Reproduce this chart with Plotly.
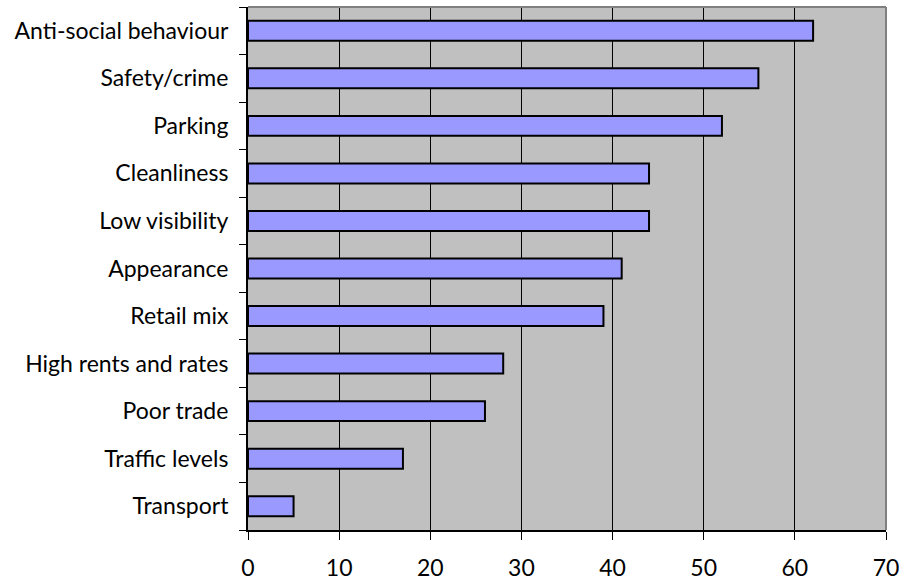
import plotly.graph_objects as go

# Issues cited by respondents (%), listed top to bottom
categories = [
    "Anti-social behaviour", "Safety/crime", "Parking", "Cleanliness",
    "Low visibility", "Appearance", "Retail mix", "High rents and rates",
    "Poor trade", "Traffic levels", "Transport",
]
values = [62, 56, 52, 44, 44, 41, 39, 28, 26, 17, 5]
x_ticks = [0, 10, 20, 30, 40, 50, 60, 70]

# Plotly draws the first category at the bottom, so reverse for top-down order
cats_plot = categories[::-1]
vals_plot = values[::-1]

fig = go.Figure(
    go.Bar(
        x=vals_plot,
        y=cats_plot,
        orientation="h",
        width=0.42,
        marker=dict(color="#9999FF", line=dict(color="#000000", width=2)),
        hoverinfo="x+y",
    )
)

font_family = "Lato, 'Open Sans', sans-serif"

fig.update_layout(
    width=902,
    height=584,
    margin=dict(l=248, r=16, t=7, b=54),
    paper_bgcolor="#FFFFFF",
    plot_bgcolor="#C0C0C0",
    showlegend=False,
    bargap=0.58,
    font=dict(family=font_family, size=23, color="#000000"),
)

fig.update_xaxes(
    range=[0, 70],
    tickvals=x_ticks,
    ticktext=[str(v) for v in x_ticks],
    showgrid=True,
    gridcolor="#000000",
    gridwidth=1,
    zeroline=False,
    showline=True,
    linecolor="#000000",
    linewidth=2,
    ticks="outside",
    ticklen=8,
    tickcolor="#000000",
    tickwidth=1,
    ticklabelstandoff=8,
    tickfont=dict(family=font_family, size=23),
    automargin=False,
    mirror=False,
)

fig.update_yaxes(
    type="category",
    categoryorder="array",
    categoryarray=cats_plot,
    range=[-0.5, len(cats_plot) - 0.5],
    showgrid=False,
    zeroline=False,
    showline=True,
    linecolor="#000000",
    linewidth=2,
    ticks="outside",
    tickson="boundaries",
    ticklen=7,
    tickcolor="#000000",
    tickwidth=1,
    ticklabelstandoff=13,
    tickfont=dict(family=font_family, size=23),
    automargin=False,
)

# Grey frame along the top and right of the plot area
fig.add_shape(type="line", xref="paper", yref="paper", x0=0, x1=1, y0=1, y1=1,
              line=dict(color="#808080", width=2))
fig.add_shape(type="line", xref="paper", yref="paper", x0=1, x1=1, y0=0, y1=1,
              line=dict(color="#808080", width=2))

fig.write_html("out.html")
